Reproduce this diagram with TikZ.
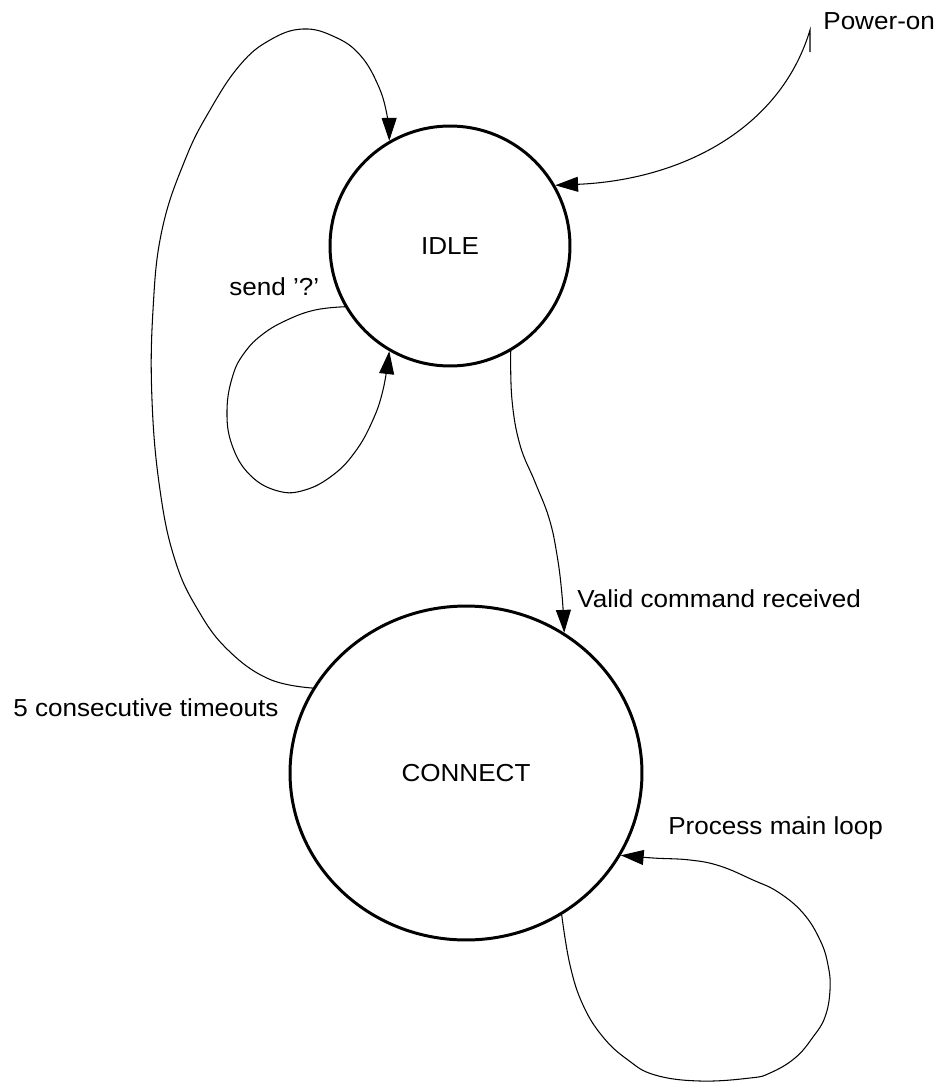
\documentclass[tikz,border=0pt]{standalone}
\usepackage{fontspec}
\setmainfont[FakeStretch=1.06]{Liberation Sans}
\usetikzlibrary{arrows.meta,shapes.geometric}
\tikzset{
  state/.style={draw, line width=1.7pt, inner sep=0pt},
  trans/.style={line width=0.6pt, -{Triangle[length=13pt,width=8.5pt]}},
  lbl/.style={anchor=base west, inner sep=0pt}
}
\begin{document}
\begin{tikzpicture}[x=0.02cm, y=-0.02cm, font=\fontsize{14}{17}\selectfont]
        \useasboundingbox (0,0) rectangle (938,1082);
        \node [state, circle, minimum size=4.8cm] (idle) at (450,246) {IDLE};
        \node [state, ellipse, minimum width=7.04cm, minimum height=6.68cm] (connect) at (466,773) {CONNECT};
        \coordinate (pwrtail) at (810,52);
        \coordinate (pwr) at (810,30);
        \draw [trans] (pwrtail) -- (pwr) .. controls (780,130) and (680,180) .. (idle.30);
        \draw [trans] plot [smooth, tension=0.7] coordinates {(connect.151) (269,679) (228,650) (198,610) (175,560) (160,490) (152,400) (153,310) (162,230) (185,160) (210,110) (240,65) (270,40) (303,29) (335,37) (360,55) (378,85) (387,115) (idle.120)};
        \draw [trans] plot [smooth, tension=0.7] coordinates {(idle.210) (315,310) (287,320) (263,334) (245,352) (233,375) (227,410) (232,445) (250,475) (278,491) (305,490) (333,475) (355,452) (372,422) (383,390) (idle.240)};
        \draw [trans] plot [smooth, tension=0.7] coordinates {(idle.300) (512,400) (520,445) (535,482) (549,518) (557,555) (562,595) (connect.55.7)};
        \draw [trans] plot [smooth, tension=0.7] coordinates {(connect.-56) (570,965) (583,1005) (603,1037) (628,1060) (655,1075) (700,1081) (750,1078) (770,1073) (795,1058) (813,1037) (825,1017) (830,990) (828,965) (820,940) (803,913) (778,892) (753,880) (720,866) (690,860) (653,858) (connect.-28)};
        \node [lbl] (pwrlbl) at (823,29) {Power-on};
        \node [lbl] (sendlbl) at (229,295) {send '?'};
        \node [lbl] (validlbl) at (577,607) {Valid command received};
        \node [lbl] (timeoutlbl) at (13,716) {5 consecutive timeouts};
        \node [lbl] (looplbl) at (668,834) {Process main loop};
\end{tikzpicture}
\end{document}
